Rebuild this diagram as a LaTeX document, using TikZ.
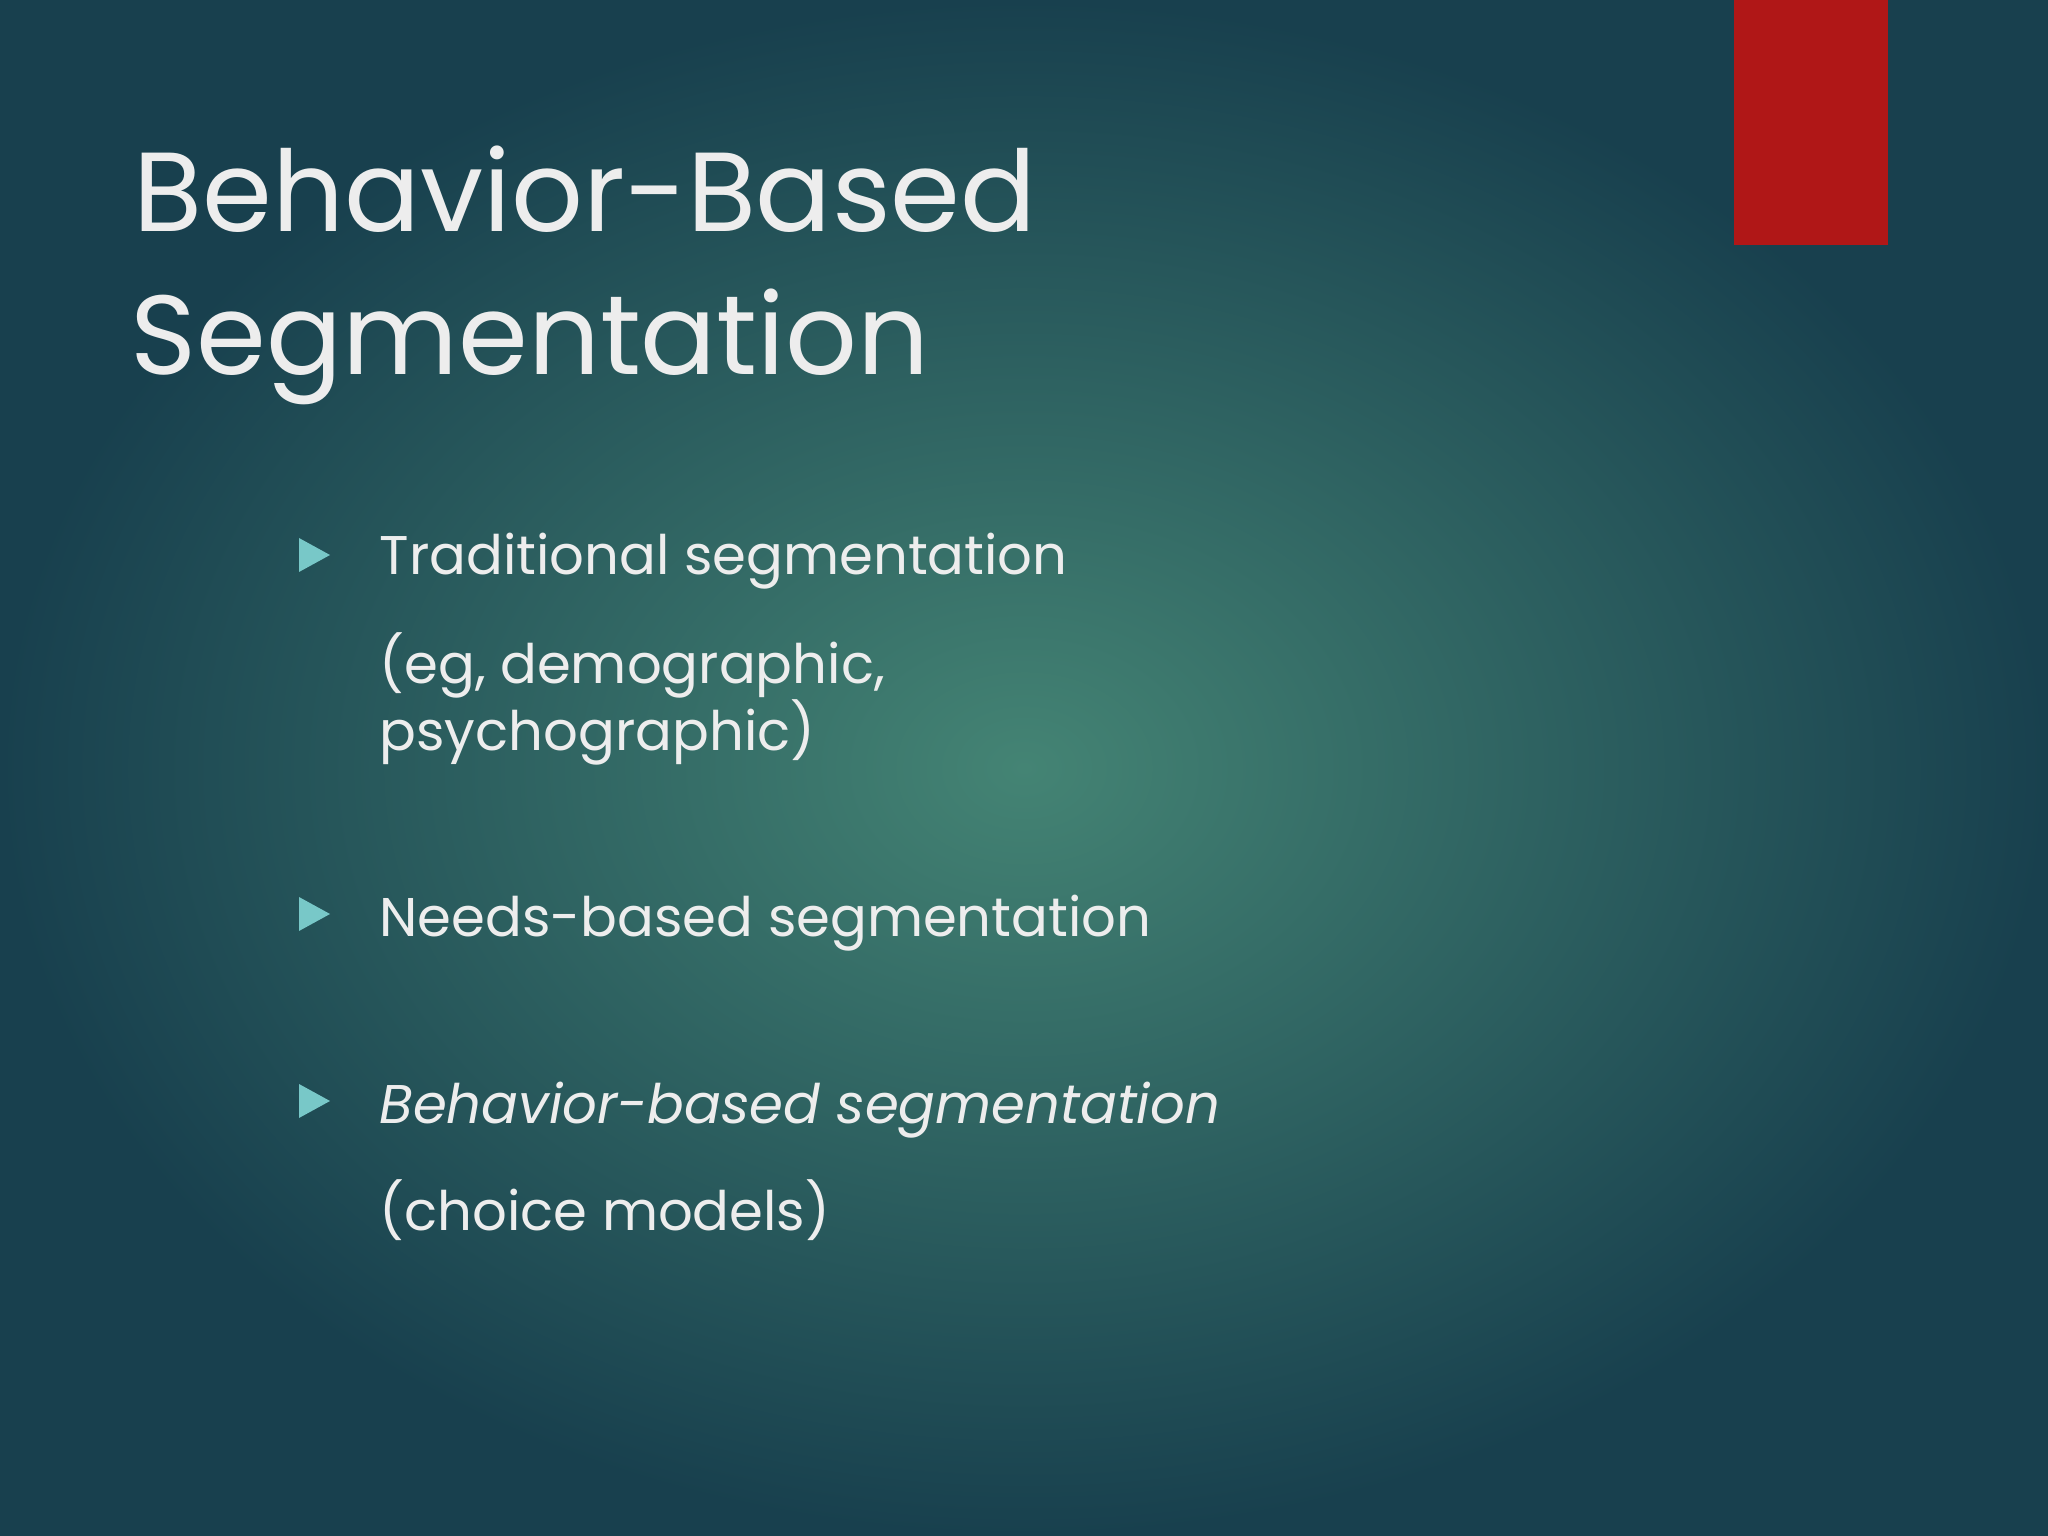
\documentclass[tikz,border=0pt]{standalone}
\usepackage{fontspec}
\setmainfont{Poppins}
\definecolor{bgin}{RGB}{68,132,116}
\definecolor{bgout}{RGB}{24,64,78}
\definecolor{redbar}{RGB}{176,23,23}
\definecolor{trifill}{RGB}{120,200,200}
\begin{document}
\begin{tikzpicture}[x=1cm,y=-1cm,
  tx/.style={anchor=base west,inner sep=0pt,text=white!93!black},
  body/.style={tx,font=\fontsize{15.5}{19}\selectfont}]
\useasboundingbox (0,0) rectangle (20.48,15.36);
\shade[inner color=bgin,outer color=bgout] (0,0) rectangle (20.48,15.36);
\fill[redbar] (17.34,0) rectangle (18.88,2.45);
\node[tx,font=\fontsize{32}{38}\selectfont] (t1) at (1.33,2.32) {Behavior-Based};
\node[tx,font=\fontsize{32}{38}\selectfont] (t2) at (1.30,3.75) {Segmentation};
\foreach \y in {5.55,9.14,11.01}{
  \fill[trifill] (2.99,\y-0.17) -- (3.30,\y) -- (2.99,\y+0.17) -- cycle;}
\node[body] (b1) at (3.79,5.75) {Traditional segmentation};
\node[body] (b1a) at (3.79,6.83) {(eg, demographic,};
\node[body] (b1b) at (3.79,7.51) {psychographic)};
\node[body] (b2) at (3.79,9.36) {Needs-based segmentation};
\node[body,font=\fontsize{15.5}{19}\selectfont\itshape] (b3) at (3.79,11.23) {Behavior-based segmentation};
\node[body] (b3a) at (3.79,12.30) {(choice models)};
\end{tikzpicture}
\end{document}
